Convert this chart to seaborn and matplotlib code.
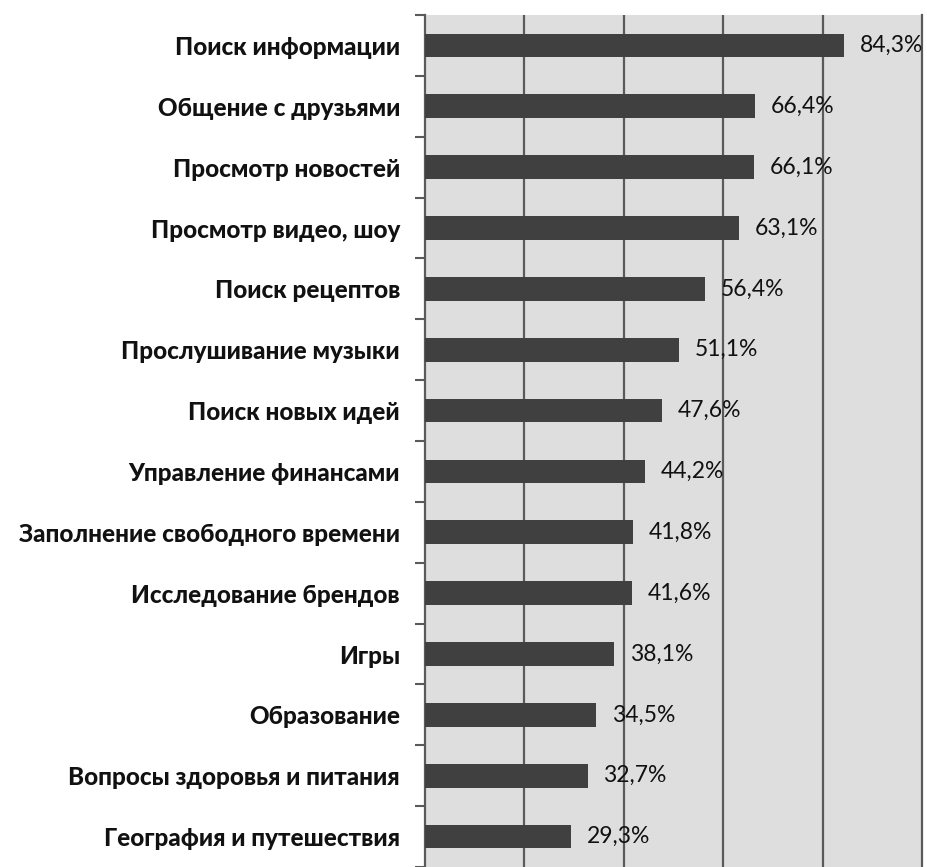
import matplotlib
matplotlib.use("Agg")
import matplotlib.pyplot as plt
import seaborn as sns
import numpy as np
import pandas as pd

categories = [
    "Поиск информации",
    "Общение с друзьями",
    "Просмотр новостей",
    "Просмотр видео, шоу",
    "Поиск рецептов",
    "Прослушивание музыки",
    "Поиск новых идей",
    "Управление финансами",
    "Заполнение свободного времени",
    "Исследование брендов",
    "Игры",
    "Образование",
    "Вопросы здоровья и питания",
    "География и путешествия",
]
values = [84.3, 66.4, 66.1, 63.1, 56.4, 51.1, 47.6, 44.2, 41.8, 41.6, 38.1, 34.5, 32.7, 29.3]
value_labels = ["84,3%", "66,4%", "66,1%", "63,1%", "56,4%", "51,1%", "47,6%", "44,2%",
                "41,8%", "41,6%", "38,1%", "34,5%", "32,7%", "29,3%"]

df = pd.DataFrame({"cat": categories, "val": values})

sns.set_style("white")
plt.rcParams["font.family"] = ["Lato", "DejaVu Sans"]

fig = plt.figure(figsize=(9.27, 8.67), dpi=100)
ax = fig.add_axes([425 / 927, 0.0, (922 - 425) / 927, 1 - 15 / 867])
ax.set_facecolor("#dedede")

sns.barplot(data=df, x="val", y="cat", orient="h", color="#404040", saturation=1,
            width=0.39, ax=ax, zorder=3, linewidth=0)

ax.set_xlim(0, 100)
ax.set_ylim(len(categories) - 0.5, -0.5)
ax.set_xticks([20, 40, 60, 80])
ax.set_xticklabels([])
ax.tick_params(axis="x", length=0)
ax.grid(axis="x", color="#5a5a5a", linewidth=1.6, zorder=1)
ax.set_axisbelow(True)

ax.set_xlabel("")
ax.set_ylabel("")
ax.tick_params(axis="y", which="major", left=False, length=0, pad=18)
for lab in ax.get_yticklabels():
    lab.set_fontweight("black")
    lab.set_fontsize(17.5)
    lab.set_color("#111111")
ax.set_yticks(np.arange(-0.5, len(categories), 1), minor=True)
ax.tick_params(axis="y", which="minor", left=True, length=7, width=1.5,
               color="#5a5a5a", direction="out")

for s in ["top", "bottom"]:
    ax.spines[s].set_visible(False)
ax.spines["left"].set_color("#5a5a5a")
ax.spines["left"].set_linewidth(1.6)
ax.spines["right"].set_color("#5a5a5a")
ax.spines["right"].set_linewidth(1.6)

for i, (v, t) in enumerate(zip(values, value_labels)):
    ax.text(v + 3.2, i, t, va="center", ha="left", fontsize=16.5, color="#111111", zorder=5)

fig.savefig("out.png", dpi=100)
